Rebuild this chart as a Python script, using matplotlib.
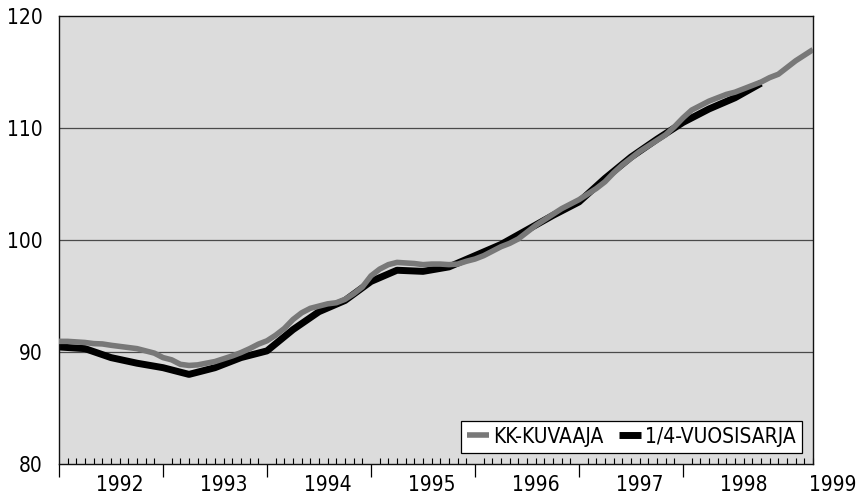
import matplotlib
matplotlib.use("Agg")
import matplotlib.pyplot as plt
from matplotlib import font_manager as fm
import numpy as np

# Monthly series (KK-KUVAAJA), Jan 1992 .. Apr 1999
kk_values = [
    90.95, 90.95, 90.9, 90.85, 90.75, 90.72, 90.6, 90.5, 90.4, 90.3, 90.1, 89.9,
    89.5, 89.3, 88.9, 88.8, 88.85, 89.0, 89.15, 89.4, 89.65, 89.95, 90.3, 90.7,
    91.0, 91.5, 92.1, 92.9, 93.5, 93.9, 94.1, 94.3, 94.4, 94.7, 95.2, 95.8,
    96.8, 97.4, 97.8, 98.0, 97.95, 97.9, 97.8, 97.85, 97.85, 97.8, 97.85, 98.1,
    98.3, 98.6, 99.0, 99.4, 99.7, 100.1, 100.7, 101.3, 101.8, 102.3, 102.8, 103.2,
    103.6, 104.1, 104.6, 105.2, 106.0, 106.7, 107.3, 107.9, 108.4, 108.9, 109.4, 110.1,
    110.9, 111.6, 112.0, 112.4, 112.7, 113.0, 113.2, 113.5, 113.8, 114.1, 114.5, 114.8,
    115.4, 116.0, 116.5, 117.0,
]
# Quarterly series (1/4-VUOSISARJA), Q1 1992 .. Q4 1998
q_values = [
    90.45, 90.3, 89.5, 89.0, 88.6, 88.0, 88.6, 89.5,
    90.1, 92.0, 93.6, 94.6, 96.3, 97.3, 97.2, 97.6,
    98.6, 99.6, 100.9, 102.2, 103.4, 105.5, 107.4, 109.0,
    110.5, 111.7, 112.7, 114.0,
]
years = [1992, 1993, 1994, 1995, 1996, 1997, 1998, 1999]
year_labels = ["1992", "1993", "1994", "1995", "1996", "1997", "1998", "1999"]
year_label_pos = [1992.58, 1993.58, 1994.58, 1995.58, 1996.58, 1997.58, 1998.58, 1999.44]
y_ticks = [80, 90, 100, 110, 120]
legend_labels = ["KK-KUVAAJA", "1/4-VUOSISARJA"]

kk_t = 1992 + np.arange(len(kk_values)) / 12.0
q_t = 1992 + np.arange(len(q_values)) / 4.0

plt.rcParams["font.family"] = ["DejaVu Sans"]
plt.rcParams["font.stretch"] = "condensed"
fp = fm.FontProperties(family="DejaVu Sans", stretch="condensed", size=15)

fig = plt.figure(figsize=(8.68, 4.98), dpi=100)
ax = fig.add_axes([59 / 868, 1 - 464 / 498, (813 - 59) / 868, (464 - 16) / 498])
ax.set_facecolor("#dcdcdc")

for yv in [90, 100, 110]:
    ax.axhline(yv, color="#4a4a4a", lw=0.9, zorder=1)

ax.plot(kk_t, kk_values, color="#787878", lw=4.0, solid_capstyle="butt",
        solid_joinstyle="round", zorder=3, label=legend_labels[0])
ax.plot(q_t, q_values, color="#000000", lw=5.0, solid_capstyle="butt",
        solid_joinstyle="round", zorder=2, label=legend_labels[1])

ax.set_xlim(1992, 1999.25)
ax.set_ylim(80, 120)

ax.set_yticks(y_ticks)
ax.set_yticklabels([str(v) for v in y_ticks], fontproperties=fp)
ax.tick_params(axis="y", length=0, pad=12)

# year boundary ticks outward, monthly ticks inward
ax.set_xticks(years[:-1])
ax.set_xticklabels([])
ax.tick_params(axis="x", which="major", direction="out", length=9, width=0.9)
ax.set_xticks(1992 + np.arange(1, 88) / 12.0, minor=True)
ax.tick_params(axis="x", which="minor", direction="in", length=4.5, width=0.8)

# year labels centred in the years
for pos, lab in zip(year_label_pos, year_labels):
    ax.text(pos, -0.047, lab, transform=ax.get_xaxis_transform(), ha="center",
            va="center", fontproperties=fp, clip_on=False)

for s in ax.spines.values():
    s.set_linewidth(1.0)
    s.set_color("#111111")

leg = ax.legend(loc="lower right", bbox_to_anchor=((802 - 59) / 754, (464 - 453) / 448),
                borderaxespad=0, ncol=2, prop=fp, frameon=True, fancybox=False,
                handlelength=1.05, handletextpad=0.2, columnspacing=0.75,
                borderpad=0.3)
leg.get_frame().set_edgecolor("#000000")
leg.get_frame().set_linewidth(0.9)
leg.get_frame().set_facecolor("white")
leg.get_frame().set_alpha(1)

fig.savefig("out.png", dpi=100, facecolor="white")
